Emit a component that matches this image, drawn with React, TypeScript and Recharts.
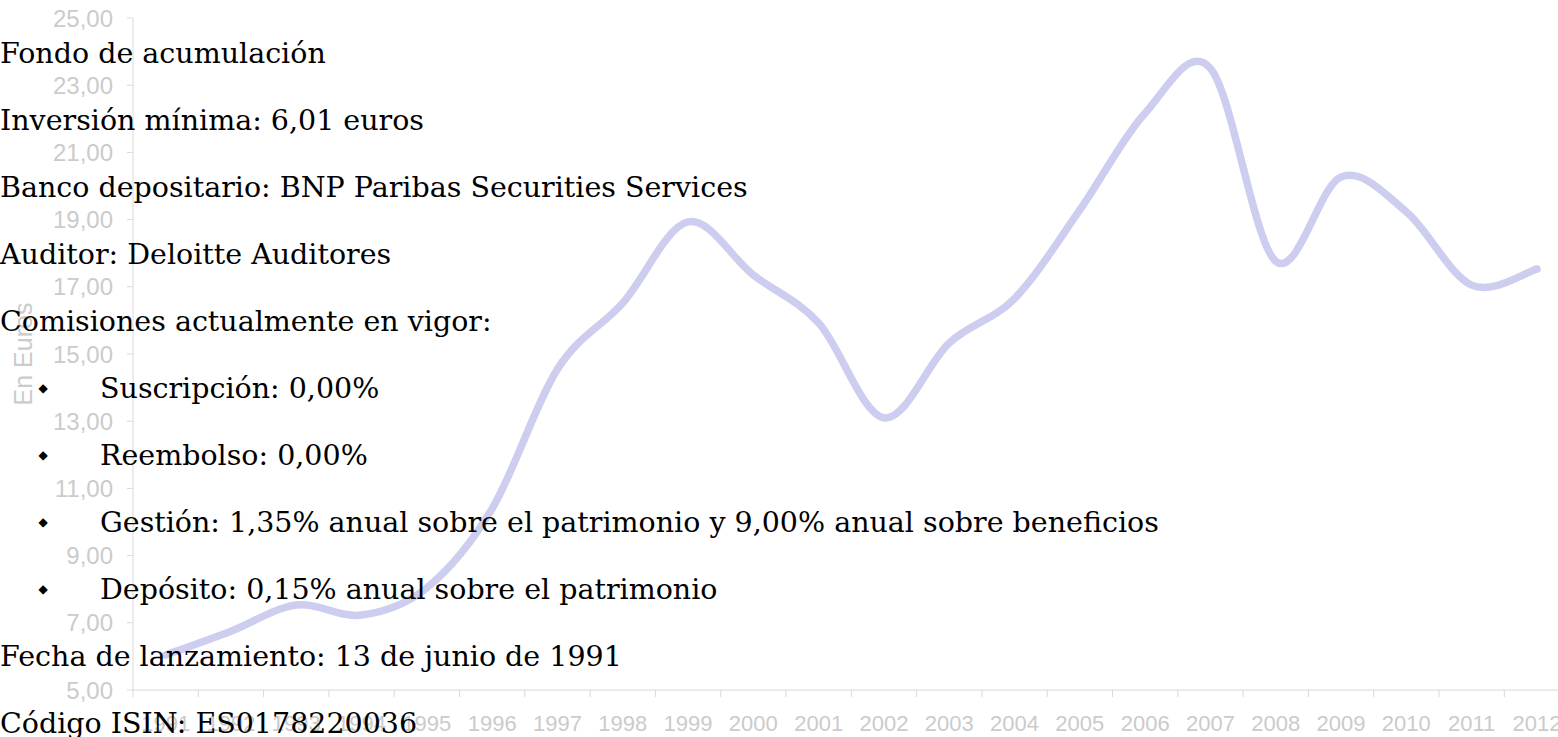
import { LineChart, Line, XAxis, YAxis } from "recharts";

const years = [
  "1991", "1992", "1993", "1994", "1995", "1996", "1997", "1998", "1999", "2000", "2001",
  "2002", "2003", "2004", "2005", "2006", "2007", "2008", "2009", "2010", "2011", "2012",
];

const values = [
  6.04, 6.75, 7.53, 7.23, 8.04, 10.4, 14.55, 16.52, 18.93, 17.35, 15.92,
  13.1, 15.33, 16.65, 19.29, 22.17, 23.5, 17.76, 20.27, 19.23, 17.05, 17.53,
];

const yTicks = [5, 7, 9, 11, 13, 15, 17, 19, 21, 23, 25];

const infoLines = [
  "Fondo de acumulación",
  "Inversión mínima: 6,01 euros",
  "Banco depositario: BNP Paribas Securities Services",
  "Auditor: Deloitte Auditores",
  "Comisiones actualmente en vigor:",
];

const feeItems = [
  "Suscripción: 0,00%",
  "Reembolso: 0,00%",
  "Gestión: 1,35% anual sobre el patrimonio y 9,00% anual sobre beneficios",
  "Depósito: 0,15% anual sobre el patrimonio",
];

const footerLines = ["Fecha de lanzamiento: 13 de junio de 1991", "Código ISIN: ES0178220036"];

const data = values.map((v, i) => ({ x: i + 0.5, year: years[i], value: v }));

const AXIS = "#D9D9D9";
const AXIS_TEXT = "#CBCBCB";
const SANS = "'Liberation Sans', Arial, sans-serif";

// Excel style smoothing (catmull-rom, 1/6 control points)
function excelCurve(context: any) {
  let pts: number[][] = [];
  return {
    areaStart() {},
    areaEnd() {},
    lineStart() {
      pts = [];
    },
    lineEnd() {
      const n = pts.length;
      if (!n) return;
      context.moveTo(pts[0][0], pts[0][1]);
      for (let i = 0; i < n - 1; i++) {
        const p0 = pts[i - 1] || pts[i];
        const p1 = pts[i];
        const p2 = pts[i + 1];
        const p3 = pts[i + 2] || p2;
        context.bezierCurveTo(
          p1[0] + (p2[0] - p0[0]) / 6,
          p1[1] + (p2[1] - p0[1]) / 6,
          p2[0] - (p3[0] - p1[0]) / 6,
          p2[1] - (p3[1] - p1[1]) / 6,
          p2[0],
          p2[1]
        );
      }
    },
    point(x: number, y: number) {
      pts.push([+x, +y]);
    },
  };
}

function YearTick(props: any) {
  const { x, y, payload, width } = props;
  const i = payload.value;
  if (i >= years.length) return null;
  const col = (width || 1436.6) / years.length;
  return (
    <text x={x + col / 2} y={y + 32} textAnchor="middle" fill={AXIS_TEXT} fontSize={22} fontFamily={SANS}>
      {years[i]}
    </text>
  );
}

function AxisTitle(props: any) {
  const vb = props.viewBox || { x: 0, y: 18, height: 672 };
  const cx = vb.x + 32;
  const cy = vb.y + vb.height / 2;
  return (
    <text
      x={cx}
      y={cy}
      transform={`rotate(-90 ${cx} ${cy})`}
      textAnchor="middle"
      fill={AXIS_TEXT}
      fontSize={25}
      fontFamily={SANS}
    >
      En Euros
    </text>
  );
}

export default function App() {
  const serif = "'DejaVu Serif', serif";
  const lineGap = 67;
  const firstBase = 63;
  return (
    <div
      style={{
        position: "absolute",
        left: 0,
        top: 0,
        width: 1558,
        height: 737,
        overflow: "hidden",
        background: "#fff",
      }}
    >
      <LineChart width={1600} height={737} data={data} margin={{ top: 18, right: 30.4, bottom: 0, left: 0 }}>
        <XAxis
          type="number"
          dataKey="x"
          domain={[0, years.length]}
          ticks={years.map((_, i) => i).concat([years.length])}
          height={47}
          tickSize={7}
          tickMargin={2}
          stroke={AXIS}
          tick={<YearTick />}
          interval={0}
        />
        <YAxis
          type="number"
          domain={[5, 25]}
          ticks={yTicks}
          width={133}
          tickSize={6}
          tickMargin={14}
          stroke={AXIS}
          tick={{ fill: AXIS_TEXT, fontSize: 24, fontFamily: SANS }}
          tickFormatter={(v: number) => v.toFixed(2).replace(".", ",")}
          label={<AxisTitle />}
        />
        <Line
          dataKey="value"
          type={excelCurve as any}
          stroke="#CDCDF0"
          strokeWidth={7.5}
          strokeLinecap="round"
          dot={false}
          activeDot={false}
          isAnimationActive={false}
        />
      </LineChart>
      <svg
        width={1558}
        height={737}
        style={{ position: "absolute", left: 0, top: 0, pointerEvents: "none" }}
      >
        <g fontFamily={serif} fontSize={28.5} fill="#000">
          {infoLines.map((t, i) => (
            <text key={t} x={0} y={firstBase + i * lineGap}>
              {t}
            </text>
          ))}
          {feeItems.map((t, i) => {
            const base = firstBase + (infoLines.length + i) * lineGap;
            return (
              <g key={t}>
                <text x={43} y={base - 6} fontSize={12} textAnchor="middle">
                  ◆
                </text>
                <text x={100} y={base}>
                  {t}
                </text>
              </g>
            );
          })}
          {footerLines.map((t, i) => (
            <text key={t} x={0} y={firstBase + (infoLines.length + feeItems.length + i) * lineGap}>
              {t}
            </text>
          ))}
        </g>
      </svg>
    </div>
  );
}
